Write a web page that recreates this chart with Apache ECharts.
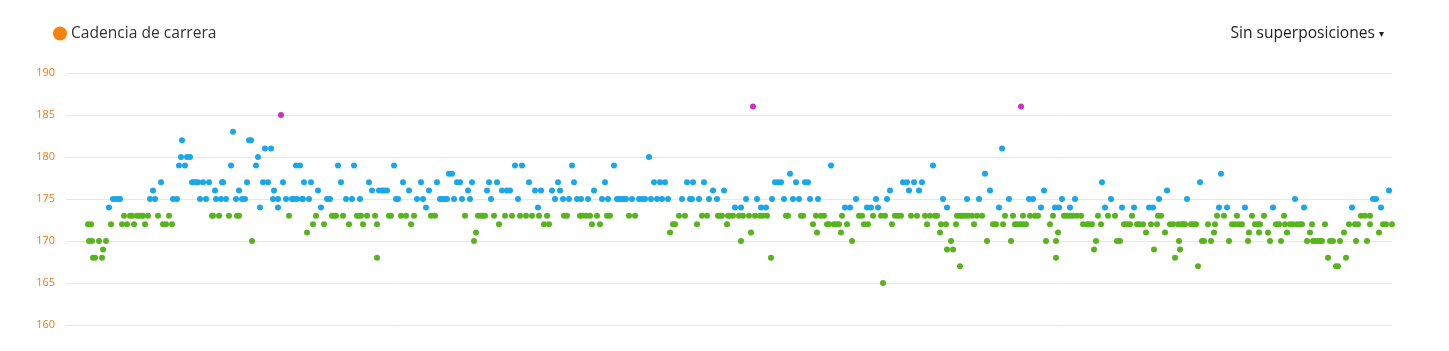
<!DOCTYPE html>
<html>
<head>
<meta charset="utf-8">
<script src="https://cdn.jsdelivr.net/npm/echarts@6/dist/echarts.min.js"></script>
<style>
html,body{margin:0;padding:0;background:#fff;}
#chart{width:1449px;height:351px;}
</style>
</head>
<body>
<div id="chart"></div>
<script>
// [elapsed time (s), cadence (ppm)] samples, in order
const samples = [
[22,172],[23,170],[25,172],[26,170],[27,168],[29,168],[33,170],[36,168],[37,169],[40,170],
[43,174],[45,172],[47,175],[50,175],[53,175],[54,175],[56,172],[58,173],[61,172],[64,173],
[66,173],[68,172],[71,173],[73,173],[76,173],[77,173],[79,172],[82,173],[84,175],[87,176],
[89,175],[92,173],[95,177],[97,172],[100,172],[103,173],[106,172],[107,175],[111,175],[113,179],
[115,180],[116,182],[119,179],[121,180],[124,180],[126,177],
[128,177],[130,177],[132,177],[134,175],[137,177],[140,175],[143,177],[146,173],[147,173],[149,176],
[150,175],[153,173],[155,175],[156,177],[157,177],[160,175],[163,173],[165,179],[167,183],[170,175],
[171,173],[173,173],[173,176],[176,175],[179,175],[181,177],[183,182],[185,182],[186,170],[190,179],
[192,180],[194,174],[197,177],[199,181],[202,177],[205,181],[207,175],[208,176],[212,175],[212,174],
[215,185],[217,177],[220,175],[223,173],[226,175],[228,175],[230,179],[231,175],[234,179],[236,175],
[237,175],[238,177],[241,171],[243,175],[245,177],[247,172],[250,173],[252,176],[255,174],[258,172],
[261,175],[264,175],[266,173],[268,173],[270,173],[272,179],[275,177],[277,173],[280,175],[283,172],
[286,175],[288,179],[291,173],[293,173],[294,175],[295,173],[297,172],[301,173],[303,177],[306,176],
[309,173],[311,172],[311,168],[313,176],[316,176],[318,176],[321,176],[323,173],[325,173],[328,179],
[330,175],[332,175],[335,173],[337,177],[340,173],[343,176],[345,172],
[348,173],[351,175],[355,177],[357,175],[360,174],[363,176],[365,173],[369,173],[371,177],[374,175],
[376,175],[379,175],[381,175],[383,178],[386,178],[388,175],[391,177],[394,177],[396,175],[399,173],
[402,176],[404,175],[406,177],[408,170],[410,171],[412,173],[415,173],[417,173],[419,173],[421,176],
[423,177],[425,175],[428,173],[431,177],[433,172],[436,176],[439,173],[441,176],[444,176],[446,173],
[449,179],[452,175],[454,173],[456,179],
[460,173],[463,177],[466,173],[469,176],[472,174],[473,173],[475,176],[478,172],[481,173],[483,172],
[486,176],[489,175],[492,177],[494,176],[497,175],[498,173],[501,173],[503,175],[506,179],[508,177],
[511,175],[514,173],[515,175],[516,173],[520,173],[522,175],[524,173],[526,172],[528,176],[531,173],
[534,172],[536,175],[539,177],[541,173],[542,175],[544,173],[548,179],[551,175],[553,175],[556,175],
[558,175],[560,175],[563,173],[566,175],
[569,173],[573,175],[576,175],[579,175],[583,180],[585,175],[588,177],[591,175],[594,177],[596,175],
[599,177],[602,175],[604,171],[607,172],[609,172],[613,173],[616,175],[619,173],[621,177],[624,175],
[626,175],[627,177],[631,172],[633,175],[636,173],[638,177],[641,173],[643,175],[647,176],[651,175],
[652,173],[654,173],[656,173],[658,176],[661,172],[662,173],[664,173],[667,173],[669,174],[673,173],
[675,174],[675,170],
[677,173],[680,175],[683,173],[685,171],[687,186],[689,173],[691,175],[694,173],[695,174],[697,173],
[700,174],[701,173],[705,168],[706,175],[709,177],[712,177],[715,177],[718,175],[720,173],[722,173],
[724,178],[727,175],[730,177],[733,175],[735,173],[737,173],[739,177],[742,177],[744,175],[747,172],
[750,173],[751,171],[752,175],[755,173],[758,173],[761,172],[763,172],[765,179],[768,172],[771,172],
[773,172],[775,171],[776,173],[779,174],[781,172],[784,174],[786,170],
[790,175],[793,173],[796,173],[798,172],[801,174],[802,172],[805,174],[807,173],[810,175],[812,174],
[815,173],[817,165],[819,173],[821,175],[824,176],[826,172],[829,173],[832,173],[835,173],[837,177],
[841,177],[843,176],[845,173],[848,177],[851,173],[853,176],[856,177],[859,173],[861,172],[864,173],
[867,179],[869,173],[871,173],[874,171],[875,172],[877,175],[880,172],[881,174],[881,169],[885,170],
[887,169],[890,172],[891,173],[894,173],[894,167],
[896,173],[899,173],[901,175],[902,173],[906,173],[908,172],[911,173],[913,175],[916,173],[919,178],
[921,170],[924,176],[927,172],[930,172],[933,174],[936,181],[937,172],[939,173],[943,175],[945,170],
[947,173],[949,172],[951,172],[954,172],[955,186],[957,173],[957,172],[960,172],[963,175],[964,173],
[967,175],[969,173],[972,173],[975,174],[978,176],[980,170],[984,172],[987,173],[989,174],[990,170],
[990,168],[992,171],[993,174],[996,175],[998,173],[1001,173],[1004,173],[1004,174],
[1007,173],[1009,175],[1011,173],[1015,173],[1017,172],[1021,172],[1023,172],[1026,172],[1028,169],[1030,170],
[1032,173],[1035,172],[1036,177],[1039,174],[1042,173],[1045,175],[1049,173],[1051,170],[1054,170],[1056,174],
[1058,172],[1061,172],[1064,172],[1066,173],[1068,174],[1071,172],[1073,172],[1077,172],[1080,171],[1083,174],
[1085,172],[1087,174],[1088,169],[1091,172],[1092,173],[1093,175],[1095,173],[1099,171],[1101,176],[1104,172],
[1107,172],[1109,168],[1112,172],[1113,170],[1115,172],
[1114,169],[1117,172],[1119,172],[1121,175],[1125,172],[1127,172],[1130,172],[1132,167],[1134,177],[1136,170],
[1138,170],[1142,172],[1145,170],[1148,171],[1149,172],[1151,173],[1153,174],[1155,178],[1158,173],[1161,174],
[1163,170],[1166,172],[1169,172],[1171,173],[1173,172],[1176,172],[1179,174],[1182,170],[1183,171],[1186,173],
[1189,172],[1192,172],[1193,171],[1194,172],[1198,173],[1202,171],[1204,170],[1207,174],[1210,172],[1213,172],
[1215,170],[1218,173],[1219,172],[1221,171],[1224,172],
[1227,172],[1229,175],[1231,172],[1234,172],[1236,172],[1238,174],[1241,170],[1244,171],[1246,172],[1247,170],
[1249,170],[1252,170],[1254,170],[1256,170],[1259,172],[1262,168],[1264,170],[1267,170],[1270,167],[1272,167],
[1274,170],[1278,171],[1280,168],[1283,172],[1286,174],[1289,172],[1290,170],[1292,172],[1295,173],[1299,173],
[1301,170],[1304,172],[1304,173],[1307,175],[1310,175],[1313,171],[1315,174],[1317,172],[1320,172],[1323,176],
[1326,172]
];
const yTicks = [160, 165, 170, 175, 180, 185, 190];
const timeRange = [0, 1326];

const chart = echarts.init(document.getElementById('chart'), null, {renderer: 'canvas'});
chart.setOption({
  animation: false,
  backgroundColor: '#ffffff',
  textStyle: {fontFamily: '"Open Sans", sans-serif'},
  grid: {left: 66, right: 57, top: 73, bottom: 26, containLabel: false},
  xAxis: {
    type: 'value', min: timeRange[0], max: timeRange[1],
    show: false
  },
  yAxis: {
    type: 'value', min: yTicks[0], max: yTicks[yTicks.length - 1], interval: 5,
    axisLine: {show: false}, axisTick: {show: false},
    axisLabel: {color: '#ef7b12', fontSize: 11, margin: 11, fontFamily: '"Open Sans", sans-serif'},
    splitLine: {lineStyle: {color: '#e8e8e8', width: 1}}
  },
  visualMap: {
    show: false, type: 'piecewise', dimension: 1, seriesIndex: 0,
    pieces: [
      {lt: 173.5, color: '#58b41c'},
      {gte: 173.5, lt: 184.5, color: '#1aa7ea'},
      {gte: 184.5, color: '#cf2fc4'}
    ]
  },
  series: [{
    name: 'Cadencia de carrera',
    type: 'scatter',
    data: samples,
    symbol: 'circle',
    symbolSize: 6,
    itemStyle: {opacity: 1}
  }],
  graphic: [
    {type: 'circle', left: 53, top: 26.5, shape: {r: 7}, style: {fill: '#f5820f'}},
    {type: 'text', left: 71, top: 25.5, style: {text: 'Cadencia de carrera', fill: '#333333', font: '15.6px "Open Sans", sans-serif'}},
    {type: 'text', right: 74, top: 25.5, style: {text: 'Sin superposiciones', fill: '#222222', font: '15.6px "Open Sans", sans-serif'}},
    {type: 'text', right: 65, top: 29, style: {text: '▾', fill: '#222222', font: '10px "DejaVu Sans", sans-serif'}}
  ]
});
</script>
</body>
</html>
